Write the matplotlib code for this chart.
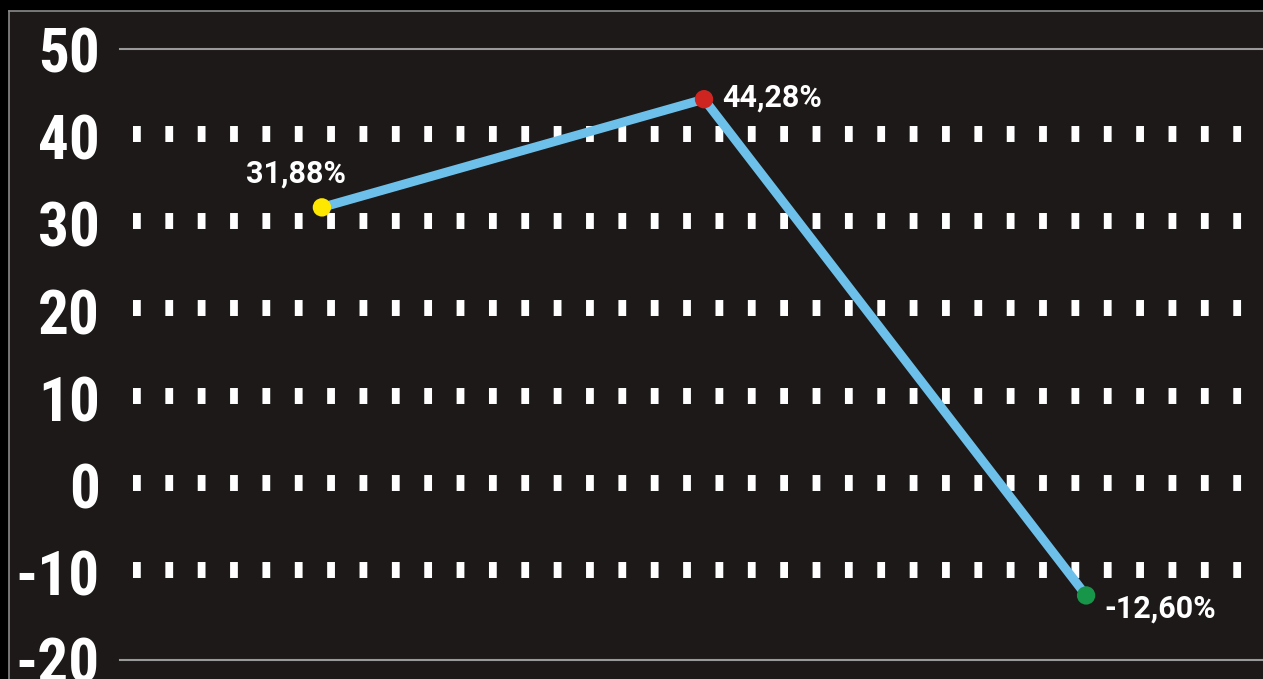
import matplotlib
matplotlib.use("Agg")
import matplotlib.pyplot as plt
from matplotlib import font_manager

plt.rcParams['font.family'] = ['Roboto', 'DejaVu Sans']
plt.rcParams['lines.scale_dashes'] = False

periods = [0, 1, 2]
values = [31.88, 44.28, -12.60]
labels = ['31,88%', '44,28%', '-12,60%']
point_colors = ['#ffe800', '#cf2520', '#17964a']
yticks = [50, 40, 30, 20, 10, 0, -10, -20]
dotted_rows = [40, 30, 20, 10, 0, -10]
solid_rows = [50, -20]

# narrow bold face for the axis numbers, if one is installed
names = {f.name for f in font_manager.fontManager.ttflist}
tick_font = dict(family=['Roboto', 'DejaVu Sans'], stretch='normal', size=42)
for cand in ['Roboto Condensed', 'Liberation Sans Narrow']:
    if cand in names:
        tick_font = dict(family=[cand, 'DejaVu Sans'], stretch='normal', size=44)
        break
else:
    cond = [f for f in font_manager.fontManager.ttflist
            if f.name == 'DejaVu Sans' and f.stretch == 'condensed' and f.weight == 700]
    if cond:
        tick_font = dict(family=['DejaVu Sans'], stretch='condensed', size=43)

W, H = 1263, 679
fig = plt.figure(figsize=(W / 100, H / 100), dpi=100, facecolor='black')
ax = fig.add_axes([9 / W, 0, 1 - 9 / W, 1 - 11 / H])
ax.set_facecolor('#1c1918')

ax.set_xlim(-0.819, 2.463)
ax.set_ylim(-22.18, 54.39)

for s in ['right', 'bottom']:
    ax.spines[s].set_visible(False)
for s in ['top', 'left']:
    ax.spines[s].set_color('#8a8a8a')
    ax.spines[s].set_linewidth(1.2)

# dashed "dotted" rows
for r in dotted_rows:
    ax.axhline(r + 0.3, xmin=0.0989, xmax=0.984, color='white', linewidth=11.5,
               linestyle=(0, (5.6, 17.7)), dash_capstyle='butt', zorder=1)
for r in solid_rows:
    ax.axhline(r, xmin=0.0885, xmax=1, color='#9a9a9a', linewidth=1.5, zorder=1)

ax.plot(periods, values, color='#6cc0ea', linewidth=6.5, solid_capstyle='round',
        solid_joinstyle='miter', zorder=3)
ax.scatter(periods, values, s=175, c=point_colors, zorder=4, linewidths=0)

offsets = [(-26, 19, 'center', 'bottom'), (18, 2, 'left', 'center'),
           (18, -13, 'left', 'center')]
for x, y, t, (dx, dy, ha, va) in zip(periods, values, labels, offsets):
    ax.annotate(t, (x, y), xytext=(dx * 0.72, dy * 0.72), textcoords='offset points',
                ha=ha, va=va, color='white', fontsize=22, fontweight='bold', zorder=5)

ax.set_xticks([])
ax.set_yticks(yticks)
ax.set_yticklabels([str(v) for v in yticks])
ax.tick_params(axis='y', length=0, pad=-65.5, labelcolor='white')
for lab in ax.get_yticklabels():
    lab.set_fontweight('bold')
    lab.set_family(tick_font['family'])
    lab.set_stretch(tick_font['stretch'])
    lab.set_fontsize(tick_font['size'])

fig.savefig('out.png', dpi=100, facecolor='black')
